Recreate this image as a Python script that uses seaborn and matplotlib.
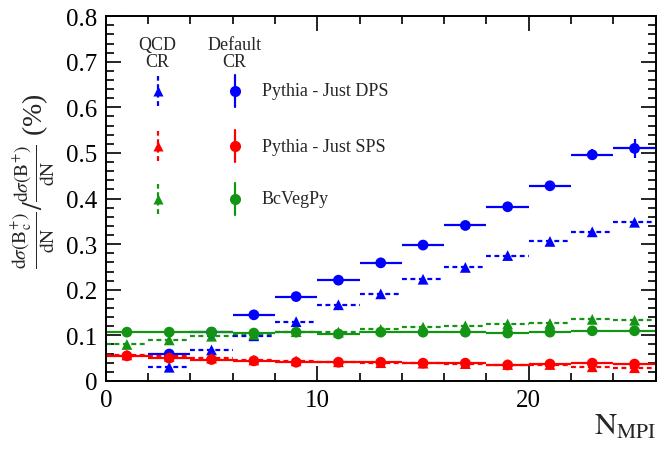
import numpy as np
import pandas as pd
import matplotlib
matplotlib.use('Agg')
import matplotlib.pyplot as plt
from matplotlib.ticker import MultipleLocator, FuncFormatter
import seaborn as sns

# --- Data ---
n_mpi = [1, 3, 5, 7, 9, 11, 13, 15, 17, 19, 21, 23, 25]
bin_half = 1.0

dps_default = [np.nan, 0.059, 0.107, 0.145, 0.185, 0.221, 0.259, 0.298, 0.341, 0.382, 0.428, 0.496, 0.510]
dps_default_err = [0, 0.003, 0.003, 0.003, 0.004, 0.004, 0.004, 0.005, 0.005, 0.006, 0.007, 0.012, 0.020]
dps_qcd = [np.nan, 0.030, 0.068, 0.099, 0.130, 0.167, 0.191, 0.223, 0.249, 0.275, 0.306, 0.327, 0.348]

sps_default = [0.055, 0.050, 0.047, 0.044, 0.041, 0.041, 0.041, 0.039, 0.039, 0.035, 0.037, 0.039, 0.037]
sps_qcd = [0.057, 0.054, 0.050, 0.046, 0.044, 0.042, 0.040, 0.039, 0.038, 0.036, 0.036, 0.031, 0.029]

bcveg_default = [0.107, 0.107, 0.107, 0.105, 0.107, 0.103, 0.107, 0.107, 0.107, 0.105, 0.107, 0.110, 0.110]
bcveg_qcd = [0.080, 0.090, 0.098, 0.102, 0.108, 0.107, 0.113, 0.118, 0.121, 0.125, 0.126, 0.135, 0.133]

labels = ["Pythia - Just DPS", "Pythia - Just SPS", "BcVegPy"]
colors = ["#0000ff", "#ff0000", "#149414"]

# --- Style ---
sns.set_theme(style="ticks")
plt.rcParams['font.family'] = ['Liberation Serif', 'DejaVu Serif']
plt.rcParams['mathtext.fontset'] = 'stix'

fig = plt.figure(figsize=(6.61, 4.52), dpi=100)
ax = fig.add_axes([0.160, 0.155, 0.832, 0.807])

series = [
    (dps_default, dps_default_err, dps_qcd, colors[0]),
    (sps_default, None, sps_qcd, colors[1]),
    (bcveg_default, None, bcveg_qcd, colors[2]),
]

dash = (0, (2.2, 1.6))
for default, err, qcd, col in series:
    # QCD CR: dashed bins with triangles
    ebq = ax.errorbar(n_mpi, qcd, xerr=bin_half, fmt='none', ecolor=col,
                      elinewidth=1.6, capsize=0)
    for lc in ebq.lines[2]:
        lc.set_linestyle(dash)
    df_q = pd.DataFrame({'x': n_mpi, 'y': qcd}).dropna()
    sns.scatterplot(data=df_q, x='x', y='y', marker='^', s=60, color=col,
                    edgecolor='none', ax=ax, zorder=3)
    # Default CR: solid bins with circles
    ax.errorbar(n_mpi, default, xerr=bin_half, yerr=err, fmt='none',
                ecolor=col, elinewidth=1.6, capsize=0)
    df_d = pd.DataFrame({'x': n_mpi, 'y': default}).dropna()
    sns.scatterplot(data=df_d, x='x', y='y', marker='o', s=60, color=col,
                    edgecolor='none', ax=ax, zorder=4)

ax.set_xlim(0, 26)
ax.set_ylim(0, 0.8)
ax.xaxis.set_major_locator(MultipleLocator(10))
ax.xaxis.set_minor_locator(MultipleLocator(2))
ax.yaxis.set_major_locator(MultipleLocator(0.1))
ax.yaxis.set_minor_locator(MultipleLocator(0.02))
ax.yaxis.set_major_formatter(FuncFormatter(lambda v, p: f"{v:g}"))
ax.tick_params(which='both', direction='in', top=True, right=True,
               labelsize=18, width=1.2, colors='black', pad=6)
ax.tick_params(which='major', length=11)
ax.tick_params(which='minor', length=6)
for sp in ax.spines.values():
    sp.set_linewidth(1.4)
    sp.set_color('black')

ax.set_xlabel('')
ax.set_ylabel(r'$\frac{\mathrm{d}\sigma(\mathrm{B_c^{+}})}{\mathrm{dN}}/\frac{\mathrm{d}\sigma(\mathrm{B^{+}})}{\mathrm{dN}}$ (%)',
              fontsize=20)
ax.yaxis.set_label_coords(-0.088, 0.55)
ax.text(1.0, -0.085, r'$\mathrm{N_{MPI}}$', transform=ax.transAxes,
        ha='right', va='top', fontsize=22)

# --- ROOT-style legend ---
ax.text(0.0945, 0.90, "QCD\nCR", transform=ax.transAxes, ha='center',
        va='center', fontsize=13, linespacing=1.0)
ax.text(0.2345, 0.90, "Default\nCR", transform=ax.transAxes, ha='center',
        va='center', fontsize=13, linespacing=1.0)
rows = [0.795, 0.644, 0.499]
for ry, lab, col in zip(rows, labels, colors):
    ax.plot([0.0945, 0.0945], [ry - 0.041, ry + 0.041], transform=ax.transAxes,
            color=col, lw=1.6, linestyle=dash, clip_on=False)
    ax.plot([0.0945], [ry], marker='^', ms=7.5, color=col, mec='none',
            transform=ax.transAxes, clip_on=False)
    ax.plot([0.2345, 0.2345], [ry - 0.045, ry + 0.045], transform=ax.transAxes,
            color=col, lw=1.6, clip_on=False)
    ax.plot([0.2345], [ry], marker='o', ms=8, color=col, mec='none',
            transform=ax.transAxes, clip_on=False)
    ax.text(0.284, ry, lab, transform=ax.transAxes, ha='left', va='center',
            fontsize=13)

fig.savefig('out.png', dpi=100)
